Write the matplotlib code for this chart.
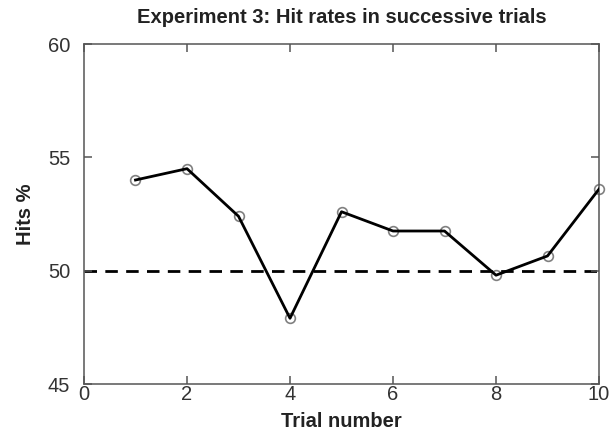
import matplotlib.pyplot as plt

plt.rcParams['font.family'] = ['Liberation Sans', 'DejaVu Sans']

# data
trials = [1, 2, 3, 4, 5, 6, 7, 8, 9, 10]
hits = [54.0, 54.5, 52.4, 47.9, 52.6, 51.75, 51.75, 49.8, 50.65, 53.6]
chance = 50

x_ticks = [0, 2, 4, 6, 8, 10]
y_ticks = [45, 50, 55, 60]

fig = plt.figure(figsize=(6.1, 4.34), dpi=100)
ax = fig.add_axes([0.1377, 0.1152, 0.8443, 0.7834])

ax.axhline(chance, color='black', lw=2.0, ls=(0, (4.5, 3)), zorder=1)
ax.plot(trials, hits, color='black', lw=2.0, zorder=3)
ax.plot(trials, hits, ls='none', marker='o', ms=7, mfc='none',
        mec='#808080', mew=1.2, zorder=2, clip_on=False)

ax.set_xlim(0, 10)
ax.set_ylim(45, 60)
ax.set_xticks(x_ticks)
ax.set_yticks(y_ticks)
ax.tick_params(direction='in', length=6, width=1.1, color='#555555',
               top=True, right=True, labelsize=14.5, labelcolor='#333333')
ax.tick_params(axis='x', pad=0.5)
ax.tick_params(axis='y', pad=10)
for s in ax.spines.values():
    s.set_color('#555555')
    s.set_linewidth(1.1)

ax.set_title('Experiment 3: Hit rates in successive trials',
             fontsize=14.5, fontweight='bold', pad=15, color='#222222')
ax.set_xlabel('Trial number', fontsize=14.5, fontweight='bold', color='#222222', labelpad=6)
ax.set_ylabel('Hits %', fontsize=14.5, fontweight='bold', color='#222222', labelpad=9)

fig.savefig('out.png', dpi=100)
